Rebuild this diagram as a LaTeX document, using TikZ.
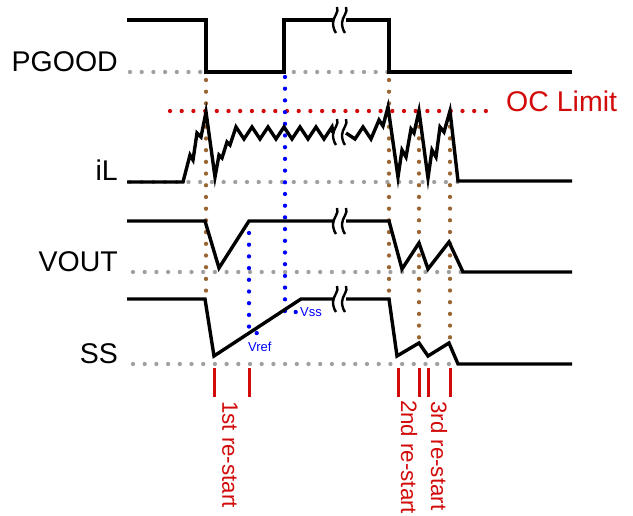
\documentclass[tikz,border=0pt]{standalone}
\usepackage{fontspec}
\setmainfont{Liberation Sans}
\usetikzlibrary{positioning}

\definecolor{dotgray}{RGB}{160,160,160}
\definecolor{dotbrown}{RGB}{153,102,51}
\definecolor{limred}{RGB}{210,10,10}
\definecolor{refblue}{RGB}{0,0,255}

% two wavy strokes marking a cut in the time axis
\newcommand{\brkmark}[2]{%
  \begin{scope}[shift={(#1,#2)}]
    \foreach \dx in {0,9} {
      \draw[wave] (\dx+2,-14) .. controls (\dx+4.5,-9) and (\dx-2,-4) .. (\dx-2,2)
        .. controls (\dx-2,6) and (\dx-0.5,10) .. (\dx+1,12);
    }
  \end{scope}}

\begin{document}
\begin{tikzpicture}[
    x=1pt, y=-1pt,
    sig/.style={line width=3.4pt, line join=miter, black},
    wave/.style={line width=2.4pt, black},
    dots/.style={line width=4.3pt, line cap=round, dash pattern=on 0pt off 11.7pt},
    grayline/.style={dots, dotgray},
    brownline/.style={dots, dotbrown},
    blueline/.style={dots, refblue},
    redline/.style={dots, limred},
    tick/.style={line width=3pt, limred},
    siglabel/.style={anchor=base east, inner sep=0pt, font=\fontsize{28.5}{30}\selectfont},
    restart/.style={rotate=-90, anchor=west, inner sep=0pt, text=limred, font=\fontsize{22.3}{24}\selectfont},
    reflabel/.style={anchor=base west, inner sep=0pt, text=refblue, font=\fontsize{13}{14}\selectfont}
  ]
    \useasboundingbox (0,0) rectangle (633,516);

    % Labels
    \node[siglabel] (pgood) at (118,72) {PGOOD};
    \node[siglabel] (il) at (118,181) {iL};
    \node[siglabel] (vout) at (118,272) {VOUT};
    \node[siglabel] (ss) at (118,363) {SS};
    \node[anchor=base west, inner sep=0pt, text=limred, font=\fontsize{28.5}{30}\selectfont] (oclim) at (506,112) {OC Limit};

    % Dotted guides
    \draw[grayline] (130,72) -- (389,72);
    \draw[grayline] (130,182) -- (458,182);
    \draw[grayline] (133,272) -- (463,272);
    \draw[grayline] (133,364) -- (458,364);
    \draw[redline] (170,111) -- (497,111);
    \draw[brownline] (206,80) -- (206,297);
    \draw[brownline] (389,80) -- (389,297);
    \draw[brownline] (419,115) -- (419,342);
    \draw[brownline] (450,115) -- (450,342);
    \draw[blueline] (249,233) -- (249,330) -- (259,334);
    \draw[blueline] (285,77) -- (285,312) -- (297,312);

    % PGOOD
    \draw[sig] (127,20) -- (206,20) -- (206,72) -- (284,72) -- (284,20) -- (333,20);
    \draw[sig] (346,20) -- (389,20) -- (389,72) -- (572,72);
    \brkmark{335}{21}

    % iL
    \draw[sig] (127,182) -- (183,182) -- (190,155) -- (193,160) -- (197,133) -- (201,137)
      -- (206,112) -- (215,177) -- (219,155) -- (222,158) -- (227,142) -- (230,145) -- (236,127)
      \foreach \k in {0,...,5} { -- (244+16*\k,139) -- (252+16*\k,127) } -- (333,133);
    \draw[sig] (346,133) -- (355,139) -- (363,127) -- (371,139) -- (379,120) -- (383,126)
      -- (388,107) -- (398,177) -- (402,150) -- (406,157) -- (411,129) -- (414,133)
      -- (419,111) -- (428,178) -- (432,150) -- (436,157) -- (440,127) -- (444,132)
      -- (450,111) -- (458,181) -- (572,181);
    \brkmark{335}{133}

    % VOUT
    \draw[sig] (127,221) -- (205,221) -- (219,268) -- (249,221) -- (333,221);
    \draw[sig] (346,221) -- (389,221) -- (402,269) -- (419,243) -- (428,269) -- (449,242)
      -- (463,272) -- (572,272);
    \brkmark{335}{222}

    % SS
    \draw[sig] (127,299) -- (205,299) -- (214,356) -- (301,299) -- (333,299);
    \draw[sig] (346,299) -- (389,299) -- (397,356) -- (419,343) -- (428,356) -- (449,343)
      -- (458,364) -- (572,364);
    \brkmark{335}{300}

    % Reference points
    \node[reflabel] (vref) at (248,352) {Vref};
    \node[reflabel] (vss) at (300,317) {Vss};

    % Re-start marks
    \foreach \tx in {214,249,398,419,428,450} {
      \draw[tick] (\tx,368) -- (\tx,397);
    }
    \node[restart] (first) at (230,401) {1st re-start};
    \node[restart] (second) at (409,400) {2nd re-start};
    \node[restart] (third) at (439,401) {3rd re-start};
\end{tikzpicture}
\end{document}
